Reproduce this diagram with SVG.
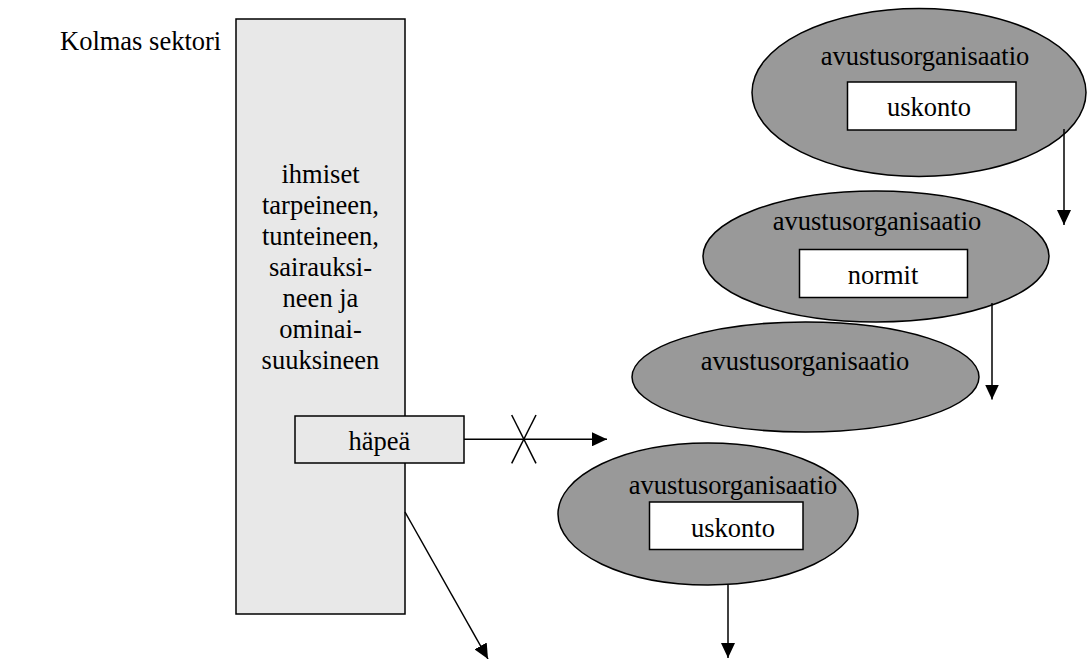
<svg xmlns="http://www.w3.org/2000/svg" width="1088" height="659" viewBox="0 0 1088 659">
<style>
text{font-size:26.5px;fill:#000}
.c{text-anchor:middle}
.ell{fill:#999;stroke:#000;stroke-width:1.5}
.box{fill:#fff;stroke:#000;stroke-width:1.5}
.grey{fill:#e8e8e8;stroke:#000;stroke-width:1.5}
.ln{stroke:#000;stroke-width:1.5;fill:none}
</style>
<defs>
<marker id="ah" markerWidth="15" markerHeight="14" refX="15" refY="7" orient="auto" markerUnits="userSpaceOnUse">
<path d="M0,0 L15,7 L0,14 Z" fill="#000"/>
</marker>
</defs>
<g font-family="'Liberation Serif', 'Times New Roman', Tinos, 'DejaVu Serif', serif">
<g id="title"><text x="60" y="50">Kolmas sektori</text></g>
<g id="people">
<rect class="grey" x="236" y="19" width="169" height="595"/>
<text class="c" x="320.5" y="183">ihmiset</text>
<text class="c" x="320.5" y="214">tarpeineen,</text>
<text class="c" x="320.5" y="245">tunteineen,</text>
<text class="c" x="320.5" y="276">sairauksi-</text>
<text class="c" x="320.5" y="307">neen ja</text>
<text class="c" x="320.5" y="337.5">ominai-</text>
<text class="c" x="320.5" y="368.5">suuksineen</text>
</g>
<g id="hapea">
<rect class="grey" x="295" y="416" width="169" height="47"/>
<text class="c" x="379.5" y="450">häpeä</text>
</g>
<g id="org1">
<ellipse class="ell" cx="919" cy="92.5" rx="167" ry="84"/>
<text class="c" x="925" y="65">avustusorganisaatio</text>
<rect class="box" x="847.5" y="82" width="168.5" height="48"/>
<text class="c" x="929" y="116">uskonto</text>
</g>
<g id="org2">
<ellipse class="ell" cx="876" cy="256.5" rx="173" ry="65.5"/>
<text class="c" x="877" y="230">avustusorganisaatio</text>
<rect class="box" x="799.5" y="249.5" width="168" height="48"/>
<text class="c" x="883" y="283.5">normit</text>
</g>
<g id="org3">
<ellipse class="ell" cx="805.5" cy="377" rx="173.5" ry="55"/>
<text class="c" x="805" y="370">avustusorganisaatio</text>
</g>
<g id="org4">
<ellipse class="ell" cx="708" cy="514" rx="150" ry="71"/>
<text class="c" x="733" y="493.5">avustusorganisaatio</text>
<rect class="box" x="649.5" y="502" width="153.5" height="47.5"/>
<text class="c" x="733" y="537">uskonto</text>
</g>
</g>
<g id="connectors">
<line class="ln" x1="1064" y1="129" x2="1064" y2="225" marker-end="url(#ah)"/>
<line class="ln" x1="992" y1="303" x2="992" y2="399.5" marker-end="url(#ah)"/>
<line class="ln" x1="728" y1="585" x2="728" y2="658" marker-end="url(#ah)"/>
<line class="ln" x1="464" y1="439.3" x2="607" y2="439.3" marker-end="url(#ah)"/>
<line class="ln" x1="511.7" y1="415" x2="536" y2="463.3"/>
<line class="ln" x1="536" y1="415" x2="511.7" y2="463.3"/>
<line class="ln" x1="405" y1="512" x2="488" y2="659" marker-end="url(#ah)"/>
</g>
</svg>
